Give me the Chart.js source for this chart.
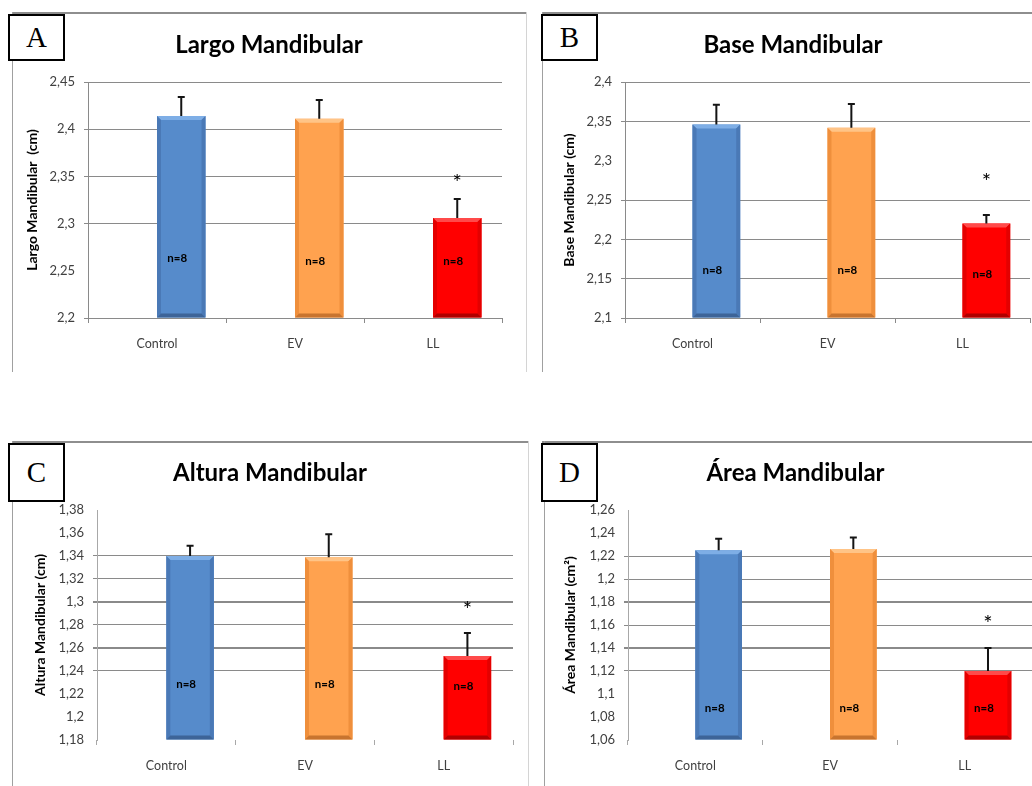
<!DOCTYPE html>
<html>
<head>
<meta charset="utf-8">
<script src="https://cdn.jsdelivr.net/npm/chart.js@4.4.1/dist/chart.umd.min.js"></script>
<style>
  html, body { margin: 0; padding: 0; background: #fff; }
  body { position: relative; width: 1032px; height: 786px; overflow: hidden; font-family: Lato, sans-serif; }
  .rule { position: absolute; }
  .tag {
    position: absolute; box-sizing: border-box; border: 2px solid #000; background: #fff;
    font-family: "Liberation Serif", "Times New Roman", serif; font-size: 29px; color: #000;
    display: flex; align-items: center; justify-content: center; line-height: 1;
  }
  canvas { position: absolute; }
</style>
</head>
<body>
<!-- panel frames -->
<div class="rule" style="left:12px;top:12px;width:515px;height:2px;background:#8e8e8e"></div>
<div class="rule" style="left:12px;top:12px;width:1px;height:360px;background:#a0a0a0"></div>
<div class="rule" style="left:526px;top:12px;width:1px;height:360px;background:#d4d4d4"></div>
<div class="rule" style="left:542px;top:12px;width:490px;height:2px;background:#8e8e8e"></div>
<div class="rule" style="left:542px;top:12px;width:1px;height:360px;background:#a0a0a0"></div>

<div class="rule" style="left:12px;top:441px;width:516px;height:2px;background:#8e8e8e"></div>
<div class="rule" style="left:12px;top:441px;width:1px;height:345px;background:#a0a0a0"></div>
<div class="rule" style="left:528px;top:441px;width:1px;height:345px;background:#d4d4d4"></div>
<div class="rule" style="left:542px;top:441px;width:490px;height:2px;background:#8e8e8e"></div>
<div class="rule" style="left:544px;top:441px;width:1px;height:345px;background:#a0a0a0"></div>

<canvas id="chartA" width="512" height="359" style="left:14px;top:13px"></canvas>
<canvas id="chartB" width="488" height="359" style="left:544px;top:13px"></canvas>
<canvas id="chartC" width="512" height="343" style="left:14px;top:443px"></canvas>
<canvas id="chartD" width="488" height="343" style="left:544px;top:443px"></canvas>

<div class="tag" style="left:8px;top:14px;width:57px;height:47px">A</div>
<div class="tag" style="left:541px;top:14px;width:57px;height:47px">B</div>
<div class="tag" style="left:8px;top:443px;width:57px;height:59px">C</div>
<div class="tag" style="left:541px;top:443px;width:57px;height:59px">D</div>

<script>
// Groups and measurements (mean and standard deviation, cm / cm²)
const categories = ['Control', 'EV', 'LL'];
const groupN = ['n=8', 'n=8', 'n=8'];

const largoMean = [2.414, 2.411, 2.306];
const largoSD   = [0.020, 0.020, 0.020];
const baseMean  = [2.346, 2.342, 2.220];
const baseSD    = [0.025, 0.030, 0.011];
const alturaMean = [1.340, 1.339, 1.253];
const alturaSD   = [0.009, 0.020, 0.020];
const areaMean  = [1.225, 1.226, 1.120];
const areaSD    = [0.010, 0.010, 0.020];

// Value-axis tick values for each panel
const largoTicks  = [2.2, 2.25, 2.3, 2.35, 2.4, 2.45];
const baseTicks   = [2.1, 2.15, 2.2, 2.25, 2.3, 2.35, 2.4];
const alturaTicks = [1.18, 1.2, 1.22, 1.24, 1.26, 1.28, 1.3, 1.32, 1.34, 1.36, 1.38];
const areaTicks   = [1.06, 1.08, 1.1, 1.12, 1.14, 1.16, 1.18, 1.2, 1.22, 1.24, 1.26];

// Bar palette per group: face, top bevel, side bevel, bottom bevel
const palette = [
  { face: '#568bcb', top: '#7eaee6', side: '#4a79b6', bottom: '#3d6498' },
  { face: '#ffa24f', top: '#ffc487', side: '#ef8f3c', bottom: '#c8742f' },
  { face: '#ff0000', top: '#ff4a4a', side: '#e40000', bottom: '#b00000' }
];

Chart.defaults.font.family = "Lato, 'Open Sans', sans-serif";
Chart.defaults.color = '#404040';

const fmt = v => String(Math.round(v * 100) / 100).replace('.', ',');
const inList = (v, list) => list.some(w => Math.abs(w - v) < 1e-6);

function polygon(ctx, pts, color) {
  ctx.fillStyle = color;
  ctx.beginPath();
  ctx.moveTo(pts[0][0], pts[0][1]);
  for (let i = 1; i < pts.length; i++) ctx.lineTo(pts[i][0], pts[i][1]);
  ctx.closePath();
  ctx.fill();
}

function buildPanel(p) {
  // bevelled bar faces
  const bevel = {
    id: 'bevel',
    afterDatasetDraw(chart, args) {
      if (args.index !== 1) return;
      const ctx = chart.ctx;
      const bottomEdge = chart.chartArea.bottom;
      args.meta.data.forEach((bar, i) => {
        const c = palette[i];
        const l = bar.x - bar.width / 2, r = bar.x + bar.width / 2;
        const t = bar.y, b = Math.min(bar.base, bottomEdge);
        const d = 4;
        ctx.save();
        polygon(ctx, [[l, t], [r, t], [r - d, t + d], [l + d, t + d]], c.top);
        polygon(ctx, [[l, t], [l + d, t + d], [l + d, b - d], [l, b]], c.side);
        polygon(ctx, [[r, t], [r - d, t + d], [r - d, b - d], [r, b]], c.side);
        polygon(ctx, [[l, b], [l + d, b - d], [r - d, b - d], [r, b]], c.bottom);
        ctx.restore();
      });
    }
  };

  // positive error bars, group size labels and significance mark
  const notes = {
    id: 'notes',
    afterDatasetsDraw(chart) {
      const ctx = chart.ctx;
      const y = chart.scales.y;
      const meta = chart.getDatasetMeta(1);
      ctx.save();
      meta.data.forEach((bar, i) => {
        const yTop = y.getPixelForValue(p.means[i] + p.sd[i]);
        ctx.strokeStyle = '#141414';
        ctx.lineWidth = 2;
        ctx.beginPath();
        ctx.moveTo(bar.x, bar.y);
        ctx.lineTo(bar.x, yTop);
        ctx.moveTo(bar.x - 3.5, yTop);
        ctx.lineTo(bar.x + 3.5, yTop);
        ctx.stroke();

        ctx.fillStyle = '#000';
        ctx.font = "bold 11.5px Lato, sans-serif";
        ctx.textAlign = 'center';
        ctx.textBaseline = 'middle';
        ctx.fillText(groupN[i], bar.x - 4, y.getPixelForValue(p.nAt[i]));
      });
      const sigBar = meta.data[p.sigIndex];
      ctx.fillStyle = '#000';
      ctx.font = "22px Lato, sans-serif";
      ctx.textAlign = 'center';
      ctx.textBaseline = 'middle';
      ctx.fillText('*', sigBar.x, y.getPixelForValue(p.sigAt) + 5.5);
      ctx.restore();
    }
  };

  const first = p.ticks[0], last = p.ticks[p.ticks.length - 1];

  return new Chart(document.getElementById(p.canvas), {
    type: 'bar',
    data: {
      labels: categories,
      datasets: [
        { label: 'spacer', data: categories.map(() => null) },
        {
          label: p.title,
          data: p.means,
          base: first,
          backgroundColor: palette.map(c => c.face),
          borderWidth: 0
        }
      ]
    },
    options: {
      responsive: false,
      animation: false,
      devicePixelRatio: 1,
      layout: { padding: { left: p.box.pl, right: p.box.pr, top: 0, bottom: 0 } },
      datasets: { bar: { categoryPercentage: p.catPct, barPercentage: 1 } },
      plugins: {
        legend: { display: false },
        tooltip: { enabled: false },
        title: {
          display: true,
          text: p.title,
          color: '#000',
          font: { size: 24, weight: 'bold' },
          padding: { top: p.box.tt, bottom: p.box.tb }
        }
      },
      scales: {
        x: {
          grid: { offset: true, drawOnChartArea: false, drawTicks: true, tickLength: 5, color: p.axisColor },
          border: { display: p.xBorder, color: p.axisColor },
          ticks: { padding: 13, font: { size: 12.5 }, color: '#404040' },
          afterFit: s => { s.height = p.box.xh; }
        },
        y: {
          min: first,
          max: last,
          afterBuildTicks: s => { s.ticks = p.ticks.map(v => ({ value: v })); },
          ticks: { callback: v => fmt(v), padding: 9, font: { size: 13 }, color: '#404040' },
          grid: {
            tickLength: 4,
            color: c => inList(c.tick.value, p.hiddenGrid) ? 'rgba(0,0,0,0)' : '#8a8a8a',
            lineWidth: c => inList(c.tick.value, p.boldGrid) ? 2 : 1
          },
          border: { color: p.axisColor },
          title: {
            display: true,
            text: p.yTitle,
            color: '#000',
            font: { size: 14, weight: 'bold' },
            padding: { top: p.box.yt, bottom: 0 }
          },
          afterFit: s => { s.width = p.box.yw; }
        }
      }
    },
    plugins: [bevel, notes]
  });
}

buildPanel({
  canvas: 'chartA', title: 'Largo Mandibular', yTitle: 'Largo Mandibular  (cm)',
  means: largoMean, sd: largoSD, ticks: largoTicks,
  hiddenGrid: [2.25], boldGrid: [], xBorder: true, axisColor: '#8a8a8a',
  nAt: [2.263, 2.2605, 2.2605], sigIndex: 2, sigAt: 2.349, catPct: 0.703,
  box: { pl: 22, pr: 24, yw: 52, yt: -12.4, tt: 17.6, tb: 22.6, xh: 54 }
});
buildPanel({
  canvas: 'chartB', title: 'Base Mandibular', yTitle: 'Base Mandibular (cm)',
  means: baseMean, sd: baseSD, ticks: baseTicks,
  hiddenGrid: [2.3], boldGrid: [], xBorder: true, axisColor: '#8a8a8a',
  nAt: [2.161, 2.161, 2.156], sigIndex: 2, sigAt: 2.28, catPct: 0.707,
  box: { pl: 12, pr: 2, yw: 69, yt: 4.6, tt: 17.6, tb: 22.6, xh: 54 }
});
buildPanel({
  canvas: 'chartC', title: 'Altura Mandibular', yTitle: 'Altura Mandibular (cm)',
  means: alturaMean, sd: alturaSD, ticks: alturaTicks,
  hiddenGrid: [1.18, 1.2, 1.22, 1.36, 1.38], boldGrid: [1.26, 1.3], xBorder: false, axisColor: '#a8a8a8',
  nAt: [1.2284, 1.2284, 1.227], sigIndex: 2, sigAt: 1.298, catPct: 0.685,
  box: { pl: 13, pr: 13, yw: 70, yt: 5.3, tt: 15.6, tb: 22.6, xh: 46 }
});
buildPanel({
  canvas: 'chartD', title: 'Área Mandibular', yTitle: 'Área Mandibular (cm²)',
  means: areaMean, sd: areaSD, ticks: areaTicks,
  hiddenGrid: [1.06, 1.08, 1.1, 1.24, 1.26], boldGrid: [1.14, 1.18], xBorder: false, axisColor: '#a8a8a8',
  nAt: [1.088, 1.0872, 1.088], sigIndex: 2, sigAt: 1.166, catPct: 0.693,
  box: { pl: 15, pr: 0, yw: 69, yt: 2.6, tt: 15.6, tb: 22.6, xh: 46 }
});
</script>
</body>
</html>
